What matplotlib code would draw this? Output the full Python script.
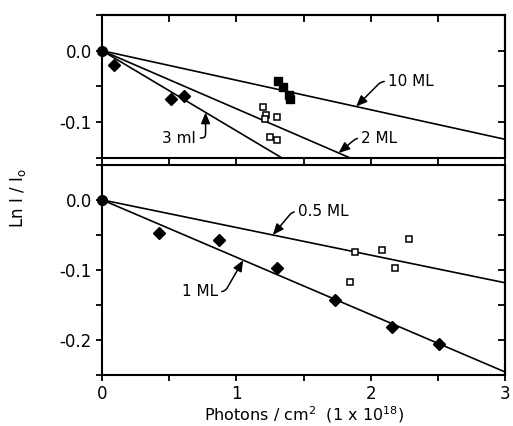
import numpy as np
import matplotlib
matplotlib.use('Agg')
import matplotlib.pyplot as plt
from matplotlib.ticker import NullFormatter

plt.rcParams['axes.unicode_minus'] = False
plt.rcParams['font.family'] = 'DejaVu Sans'

# top panel data
ml3_x = [0.09, 0.51, 0.61]
ml3_y = [-0.020, -0.068, -0.064]
ml10_x = [1.31, 1.345, 1.39, 1.395]
ml10_y = [-0.043, -0.051, -0.062, -0.067]
ml2_x = [1.20, 1.22, 1.21, 1.30, 1.25, 1.305]
ml2_y = [-0.078, -0.090, -0.096, -0.093, -0.121, -0.125]
slope_top = {'10 ML': -0.0413, '2 ML': -0.0812, '3 ml': -0.112}

# bottom panel data
ml1_x = [0.42, 0.87, 1.30, 1.73, 2.16, 2.505]
ml1_y = [-0.048, -0.058, -0.098, -0.143, -0.181, -0.206]
ml05_x = [1.88, 2.085, 2.28, 2.18, 1.845]
ml05_y = [-0.075, -0.071, -0.056, -0.097, -0.117]
slope_bot = {'0.5 ML': -0.0395, '1 ML': -0.082}

fig = plt.figure(figsize=(5.13, 4.26), dpi=100)
ax1 = fig.add_axes([0.199, 0.629, 0.786, 0.336])
ax2 = fig.add_axes([0.199, 0.12, 0.786, 0.493])

xx = np.array([0, 3])


def fmt_y(v):
    if abs(round(v / 0.1) * 0.1 - v) < 1e-6:
        return '%.1f' % (0.0 if abs(v) < 1e-9 else v)
    return ''


def style(ax, ylo, yhi, xlabels, top_ticks):
    ax.set_xlim(0, 3)
    ax.set_ylim(ylo, yhi)
    yt = np.round(np.arange(ylo, yhi + 1e-9, 0.05), 3)
    xt = np.arange(0, 3.01, 0.5)
    ax.set_yticks(yt)
    ax.set_yticklabels([fmt_y(v) for v in yt])
    ax.set_xticks(xt)
    if xlabels:
        ax.set_xticklabels(['%d' % v if abs(v - round(v)) < 1e-6 else '' for v in xt])
    else:
        ax.set_xticklabels([])
    for s in ax.spines.values():
        s.set_linewidth(1.5)
    ax.tick_params(axis='both', direction='out', length=4, width=1.3, labelsize=12)
    # inward ticks on the right (and top)
    sy = ax.secondary_yaxis('right')
    sy.set_yticks(yt)
    sy.yaxis.set_major_formatter(NullFormatter())
    sy.tick_params(direction='in', length=5, width=1.3)
    sy.spines['right'].set_linewidth(1.5)
    if top_ticks:
        sx = ax.secondary_xaxis('top')
        sx.set_xticks(xt)
        sx.xaxis.set_major_formatter(NullFormatter())
        sx.tick_params(direction='in', length=5, width=1.3)
        sx.spines['top'].set_linewidth(1.5)
    ax.set_xlim(0, 3)
    ax.set_ylim(ylo, yhi)


style(ax1, -0.15, 0.05, False, True)
style(ax2, -0.25, 0.05, True, False)

# top panel
for k, m in slope_top.items():
    ax1.plot(xx, m * xx, color='black', lw=1.2)
ax1.plot(ml3_x, ml3_y, 'D', color='black', ms=6.5)
ax1.plot(ml10_x, ml10_y, 's', color='black', ms=5.5)
ax1.plot(ml2_x, ml2_y, 's', mfc='white', mec='black', mew=1.1, ms=5)
ax1.plot([0], [0], 'o', color='black', ms=7, clip_on=False, zorder=5)

# bottom panel
for k, m in slope_bot.items():
    ax2.plot(xx, m * xx, color='black', lw=1.2)
ax2.plot(ml1_x, ml1_y, 'D', color='black', ms=6.5)
ax2.plot(ml05_x, ml05_y, 's', mfc='white', mec='black', mew=1.1, ms=5)
ax2.plot([0], [0], 'o', color='black', ms=7, clip_on=False, zorder=5)


def label(ax, text, xhead, slope, xt, yt, angB, right_side=True):
    ap = dict(arrowstyle='-|>,head_length=0.6,head_width=0.25', color='black', lw=1.1,
              shrinkA=1, shrinkB=0,
              connectionstyle='angle,angleA=0,angleB=%d,rad=4' % angB,
              relpos=(0, 0.5) if right_side else (1, 0.5))
    ax.annotate(text, xy=(xhead, slope * xhead), xytext=(xt, yt),
                ha='left' if right_side else 'right', va='center',
                fontsize=11, arrowprops=ap)


label(ax1, '10 ML', 1.89, slope_top['10 ML'], 2.13, -0.043, 45)
label(ax1, '2 ML', 1.76, slope_top['2 ML'], 1.93, -0.122, 40)
label(ax1, '3 ml', 0.77, slope_top['3 ml'], 0.70, -0.122, 90, right_side=False)
label(ax2, '0.5 ML', 1.27, slope_bot['0.5 ML'], 1.46, -0.017, 50)
label(ax2, '1 ML', 1.05, slope_bot['1 ML'], 0.86, -0.131, 60, right_side=False)

ax2.set_xlabel('Photons / cm$^2$  (1 x 10$^{18}$)', fontsize=11.5, labelpad=1)
fig.text(0.035, 0.535, 'Ln I / I$_\\mathrm{o}$', rotation=90, fontsize=12,
         ha='center', va='center')

fig.savefig('out.png', dpi=100)
